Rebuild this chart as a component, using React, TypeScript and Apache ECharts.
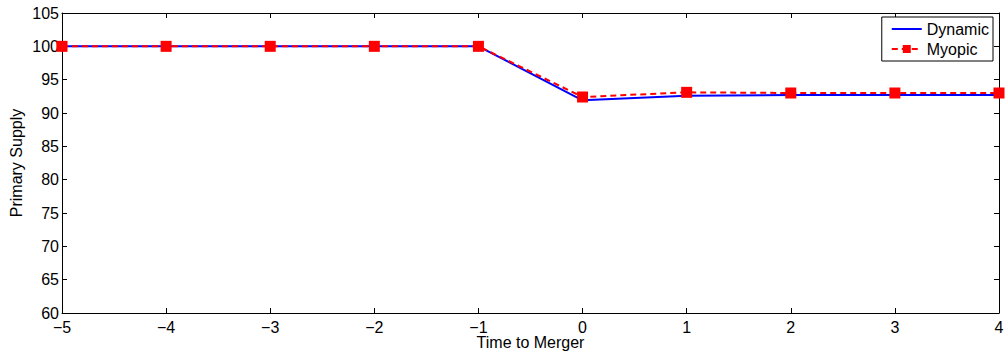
import React, { useEffect, useRef } from "react";
import * as echarts from "echarts";

const times = [-5, -4, -3, -2, -1, 0, 1, 2, 3, 4];
const dynamicValues = [100, 100, 100, 100, 100, 91.9, 92.6, 92.7, 92.7, 92.7];
const myopicValues = [100, 100, 100, 100, 100, 92.4, 93.1, 93.0, 93.0, 93.0];
const yTicks = { min: 60, max: 105, interval: 5 };
const xTicks = { min: -5, max: 4, interval: 1 };

const FONT = "'Liberation Sans', Arial, Helvetica, sans-serif";

export default function App() {
  const ref = useRef<HTMLDivElement>(null);
  useEffect(() => {
    if (!ref.current) return;
    const chart = echarts.init(ref.current, undefined, { renderer: "svg" });
    const fmt = (v: number) => String(v).replace("-", "\u2212");
    const axisLine = { show: true, onZero: false, lineStyle: { color: "#000", width: 1 } };
    const tick = { show: true, inside: true, length: 5, lineStyle: { color: "#000" } };
    chart.setOption({
      animation: false,
      backgroundColor: "#fff",
      textStyle: { fontFamily: FONT },
      grid: {
        left: 62,
        right: 6,
        top: 13,
        bottom: 45,
        containLabel: false,
        outerBoundsMode: "none",
      },
      legend: {
        orient: "vertical",
        right: 12,
        top: 17,
        backgroundColor: "#fff",
        borderColor: "#000",
        borderWidth: 1,
        borderRadius: 0,
        padding: [4, 4, 4, 9],
        itemGap: 4,
        itemWidth: 30,
        itemHeight: 10,
        textStyle: { fontFamily: FONT, fontSize: 16, color: "#000" },
        data: [
          { name: "Dynamic", itemStyle: { opacity: 0 } },
          { name: "Myopic" },
        ],
      },
      xAxis: [
        {
          type: "value",
          min: xTicks.min,
          max: xTicks.max,
          interval: xTicks.interval,
          position: "bottom",
          name: "Time to Merger",
          nameLocation: "middle",
          nameGap: 21,
          nameMoveOverlap: false,
          nameTextStyle: { fontFamily: FONT, fontSize: 16, color: "#000" },
          axisLine,
          axisTick: tick,
          axisLabel: { fontFamily: FONT, fontSize: 16, color: "#000", margin: 6, formatter: fmt },
          splitLine: { show: false },
        },
        {
          type: "value",
          min: xTicks.min,
          max: xTicks.max,
          interval: xTicks.interval,
          position: "top",
          axisLine,
          axisTick: tick,
          axisLabel: { show: false },
          splitLine: { show: false },
        },
      ],
      yAxis: [
        {
          type: "value",
          min: yTicks.min,
          max: yTicks.max,
          interval: yTicks.interval,
          position: "left",
          name: "Primary Supply",
          nameLocation: "middle",
          nameGap: 38,
          nameMoveOverlap: false,
          nameTextStyle: { fontFamily: FONT, fontSize: 16, color: "#000" },
          axisLine,
          axisTick: tick,
          axisLabel: { fontFamily: FONT, fontSize: 16, color: "#000", margin: 3 },
          splitLine: { show: false },
        },
        {
          type: "value",
          min: yTicks.min,
          max: yTicks.max,
          interval: yTicks.interval,
          position: "right",
          axisLine,
          axisTick: tick,
          axisLabel: { show: false },
          splitLine: { show: false },
        },
      ],
      series: [
        {
          name: "Dynamic",
          type: "line",
          data: times.map((t, i) => [t, dynamicValues[i]]),
          showSymbol: false,
          symbol: "none",
          lineStyle: { color: "#0000ff", width: 2 },
          itemStyle: { color: "#0000ff" },
          z: 2,
        },
        {
          name: "Myopic",
          type: "line",
          data: times.map((t, i) => [t, myopicValues[i]]),
          symbol: "rect",
          symbolSize: 11,
          lineStyle: { color: "#ff0000", width: 2, type: [6, 4] },
          itemStyle: { color: "#ff0000" },
          z: 3,
        },
      ],
    });
    return () => chart.dispose();
  }, []);
  return (
    <div
      ref={ref}
      style={{ position: "fixed", left: 0, top: 0, width: 1005, height: 358 }}
    />
  );
}
